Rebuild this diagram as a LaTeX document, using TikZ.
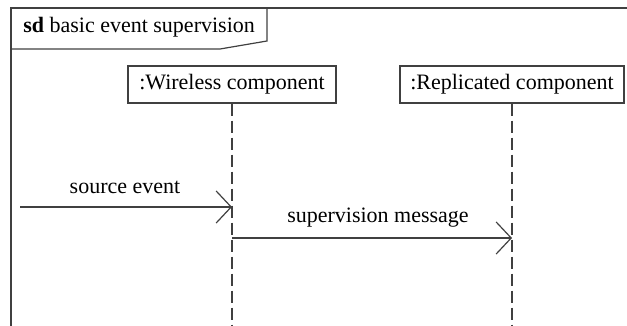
\documentclass[tikz,border=0pt]{standalone}
\usepackage{fontspec}
\setmainfont{Liberation Serif}
\usetikzlibrary{arrows.meta}

\begin{document}
\begin{tikzpicture}[x=0.5pt,y=-0.5pt,line width=0.6pt,
    every node/.style={font=\fontsize{11}{13}\selectfont},
    lifebox/.style={draw=black!75,fill=white,inner sep=0pt,minimum height=18.5pt},
    lifeline/.style={draw=black!75,dash pattern=on 6pt off 2.5pt},
    msg/.style={draw=black!75,-{Straight Barb[length=7.5pt,width=16pt,line width=0.6pt]}}]
  \useasboundingbox (0,0) rectangle (627,326);

  % frame and name tab
  \draw[black!75] (11,326) -- (11,8) -- (627,8);
  \draw[black!75] (11,49) -- (220,49) -- (267,41) -- (267,8);
  \node[anchor=west] (title) at (16,27) {\textbf{sd} basic event supervision};

  % lifelines
  \node[lifebox,minimum width=104pt] (wireless) at (232,84.5) {:Wireless component};
  \node[lifebox,minimum width=112pt] (replicated) at (512,84.5) {:Replicated component};
  \coordinate (wend) at (232,326);
  \coordinate (rend) at (512,326);
  \draw[lifeline] (wireless.south) -- (wend);
  \draw[lifeline] (replicated.south) -- (rend);

  % messages
  \coordinate (src) at (20,207);
  \coordinate (wsrc) at (232,207);
  \coordinate (wout) at (232,238);
  \coordinate (rin) at (512,238);
  \draw[msg] (src) -- (wsrc);
  \draw[msg] (wout) -- (rin);
  \node (srclabel) at (125,187) {source event};
  \node (suplabel) at (378,218) {supervision message};
\end{tikzpicture}
\end{document}
